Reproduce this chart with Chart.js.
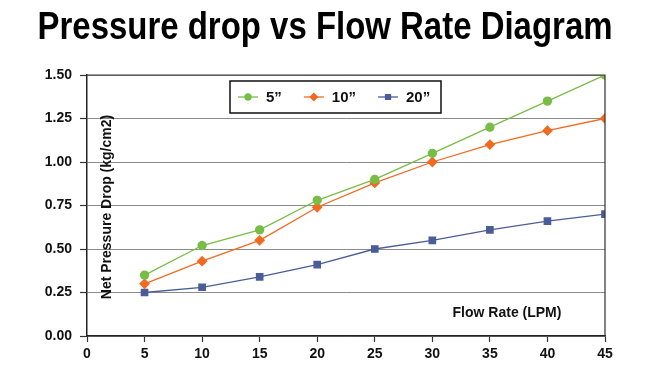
<!DOCTYPE html>
<html>
<head>
<meta charset="utf-8">
<script src="https://cdn.jsdelivr.net/npm/chart.js@4"></script>
<style>
  html, body { margin: 0; padding: 0; background: #fff; }
  #wrap { width: 650px; height: 371px; }
</style>
</head>
<body>
<div id="wrap"><canvas id="myChart"></canvas></div>
<script>
const flowRates = [5, 10, 15, 20, 25, 30, 35, 40, 45];
const drop5 = [0.35, 0.52, 0.61, 0.78, 0.90, 1.05, 1.20, 1.35, 1.50];
const drop10 = [0.30, 0.43, 0.55, 0.74, 0.88, 1.00, 1.10, 1.18, 1.25];
const drop20 = [0.25, 0.28, 0.34, 0.41, 0.50, 0.55, 0.61, 0.66, 0.70];
const seriesNames = ["5\u201d", "10\u201d", "20\u201d"];

const FONT = "'Liberation Sans', Arial, sans-serif";
const TITLE = "Pressure drop vs Flow Rate Diagram";

const toPoints = (values) => values.map((v, i) => ({ x: flowRates[i], y: v }));

const makeSet = (label, values, color, style, radius) => ({
  label: label,
  data: toPoints(values),
  borderColor: color,
  backgroundColor: color,
  borderWidth: 1.3,
  pointStyle: style,
  pointRadius: radius,
  pointHoverRadius: radius,
  tension: 0,
});

// title, legend box and axis titles drawn by hand
const insideLabels = {
  id: "insideLabels",
  afterDraw(chart) {
    const ctx = chart.ctx;
    const area = chart.chartArea;
    ctx.save();

    // title: the original font is condensed, so squeeze it to ~575px
    ctx.fillStyle = "#000";
    ctx.font = "bold 38px " + FONT;
    ctx.textAlign = "center";
    ctx.textBaseline = "middle";
    const squeeze = 575 / ctx.measureText(TITLE).width;
    ctx.save();
    ctx.translate(chart.width / 2, 29);
    ctx.scale(squeeze, 1);
    ctx.fillText(TITLE, 0, 0);
    ctx.restore();

    // frame top + right
    ctx.strokeStyle = "#333";
    ctx.lineWidth = 1.2;
    ctx.beginPath();
    ctx.moveTo(area.left, area.top);
    ctx.lineTo(area.right, area.top);
    ctx.lineTo(area.right, area.bottom);
    ctx.stroke();

    // axis titles
    ctx.fillStyle = "#111";
    ctx.font = "bold 14px " + FONT;
    ctx.fillText("Flow Rate (LPM)", area.left + 420, area.bottom - 23);
    ctx.save();
    ctx.translate(area.left + 20, area.top + 132);
    ctx.rotate(-Math.PI / 2);
    ctx.fillText("Net Pressure Drop (kg/cm2)", 0, 0);
    ctx.restore();

    // legend
    const bx = area.left + 143;
    const by = area.top + 6;
    const bw = 211;
    const bh = 32;
    ctx.fillStyle = "#fff";
    ctx.fillRect(bx, by, bw, bh);
    ctx.strokeStyle = "#111";
    ctx.lineWidth = 1.5;
    ctx.strokeRect(bx, by, bw, bh);

    ctx.font = "bold 15px " + FONT;
    ctx.textAlign = "left";
    let x = bx + 8;
    const cy = by + bh / 2;
    chart.data.datasets.forEach((ds) => {
      ctx.strokeStyle = ds.borderColor;
      ctx.lineWidth = 1.3;
      ctx.beginPath();
      ctx.moveTo(x, cy);
      ctx.lineTo(x + 20, cy);
      ctx.stroke();
      Chart.helpers.drawPoint(ctx, {
        pointStyle: ds.pointStyle,
        radius: ds.pointRadius - 1,
        borderWidth: 1,
        rotation: 0,
      }, x + 10, cy);
      ctx.fillStyle = ds.borderColor;
      ctx.fill();
      ctx.fillStyle = "#111";
      ctx.fillText(ds.label, x + 28, cy + 1);
      x += 28 + ctx.measureText(ds.label).width + 22;
    });
    ctx.restore();
  },
};

new Chart(document.getElementById("myChart"), {
  type: "line",
  data: {
    datasets: [
      makeSet(seriesNames[0], drop5, "#78bd45", "circle", 4),
      makeSet(seriesNames[1], drop10, "#f26a21", "rectRot", 4.5),
      makeSet(seriesNames[2], drop20, "#4b5d98", "rect", 4.5),
    ],
  },
  options: {
    responsive: true,
    maintainAspectRatio: false,
    animation: false,
    layout: { padding: { left: 0, right: 45, top: 75, bottom: 0 } },
    plugins: {
      legend: { display: false },
      tooltip: { enabled: false },
      title: { display: false },
    },
    scales: {
      x: {
        type: "linear",
        min: 0,
        max: 45,
        afterFit: (scale) => { scale.height = 35; },
        ticks: {
          stepSize: 5,
          color: "#111",
          padding: 4,
          font: { family: FONT, size: 14, weight: "bold" },
        },
        grid: {
          drawOnChartArea: false,
          tickLength: 6,
          tickColor: "#333",
          tickWidth: 1.2,
        },
        border: { color: "#222", width: 1.5 },
      },
      y: {
        min: 0,
        max: 1.5,
        afterFit: (scale) => { scale.width = 87; },
        ticks: {
          stepSize: 0.25,
          color: "#111",
          padding: 8,
          font: { family: FONT, size: 14, weight: "bold" },
          callback: (v) => v.toFixed(2),
        },
        grid: {
          color: "#8a8a8a",
          lineWidth: 1,
          tickLength: 7,
          tickColor: "#333",
          tickWidth: 1.2,
        },
        border: { color: "#222", width: 1.5 },
      },
    },
  },
  plugins: [insideLabels],
});
</script>
</body>
</html>
